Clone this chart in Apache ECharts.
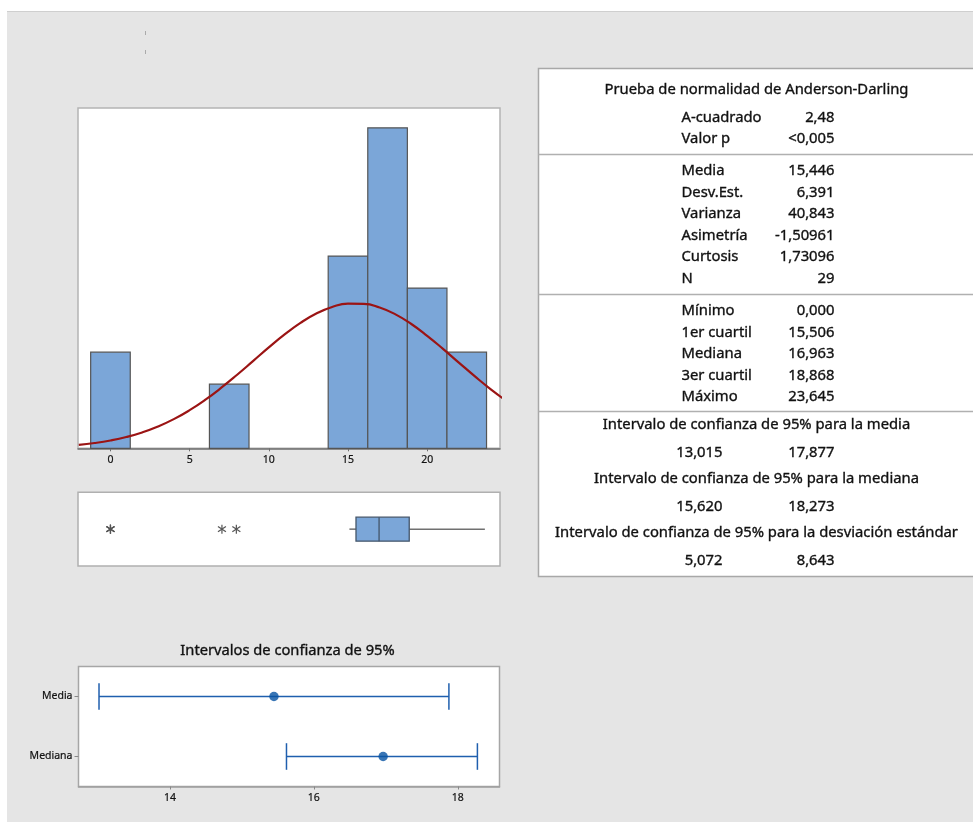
<!DOCTYPE html>
<html>
<head>
<meta charset="utf-8">
<script src="https://cdn.jsdelivr.net/npm/echarts@6/dist/echarts.min.js"></script>
<style>
  html, body { margin: 0; padding: 0; background: #ffffff; }
  #chart { width: 973px; height: 822px; }
</style>
</head>
<body>
<div id="chart"></div>
<script>
// ---- Histogram: bin edges and counts (N = 29) ----
const binLower  = [-1.25, 6.25, 13.75, 16.25, 18.75, 21.25];
const binUpper  = [ 1.25, 8.75, 16.25, 18.75, 21.25, 23.75];
const binCounts = [3, 2, 6, 10, 5, 3];

// Fitted normal curve, in count units per bin
const curveX = [-2, -1, 0, 1, 2, 3, 4, 5, 6, 7, 8, 9, 10, 11, 12, 13, 14, 15, 16, 17, 18, 19, 20, 21, 22, 23, 24, 25];
const curveY = [0.109, 0.165, 0.244, 0.352, 0.495, 0.680, 0.910, 1.190, 1.518, 1.890, 2.296, 2.721, 3.148, 3.553,
                3.914, 4.206, 4.412, 4.515, 4.509, 4.394, 4.179, 3.878, 3.511, 3.103, 2.675, 2.251, 1.848, 1.481];

const histTicks = [0, 5, 10, 15, 20];

// ---- Box plot: lower whisker, Q1, median, Q3, upper whisker; outliers ----
const boxStats = [15.09, 15.506, 16.963, 18.868, 23.645];
const outliers = [0, 0, 0, 7.04, 7.95];

// ---- 95% confidence intervals ----
const ciCategories = ['Media', 'Mediana'];
const ciLow      = [13.015, 15.620];
const ciEstimate = [15.446, 16.963];
const ciHigh     = [17.877, 18.273];
const ciTicks    = [14, 16, 18];
const sdLow = 5.072, sdHigh = 8.643;

// ---- Summary table ----
const adLabels = ['A-cuadrado', 'Valor p'];
const adValues = ['2,48', '<0,005'];
const descLabels = ['Media', 'Desv.Est.', 'Varianza', 'Asimetría', 'Curtosis', 'N'];
const descValues = ['15,446', '6,391', '40,843', '-1,50961', '1,73096', '29'];
const quartLabels = ['Mínimo', '1er cuartil', 'Mediana', '3er cuartil', 'Máximo'];
const quartValues = ['0,000', '15,506', '16,963', '18,868', '23,645'];
const intervalTitles = [
  'Intervalo de confianza de 95% para la media',
  'Intervalo de confianza de 95% para la mediana',
  'Intervalo de confianza de 95% para la desviación estándar'
];

const fmt3 = v => v.toFixed(3).replace('.', ',');
const intervalLow  = [fmt3(ciLow[0]), fmt3(ciLow[1]), fmt3(sdLow)];
const intervalHigh = [fmt3(ciHigh[0]), fmt3(ciHigh[1]), fmt3(sdHigh)];

const FONT = '"Noto Sans", "Open Sans", sans-serif';
const TXT = '#111111';
const BAR_FILL = '#7ba6d8';
const CI_BLUE = '#1f5fae';

const chart = echarts.init(document.getElementById('chart'), null, { renderer: 'canvas' });

// Table graphics
const tableEls = [];
const TBL_X = 538.5, TBL_Y = 68.5, TBL_W = 440, TBL_H = 508;
const LBL_X = 681.5, VAL_X = 834.5, MID_X = 756.5;
tableEls.push({ type: 'rect', z: 1, shape: { x: TBL_X, y: TBL_Y, width: TBL_W, height: TBL_H },
  style: { fill: '#ffffff', stroke: '#a8a8a8', lineWidth: 1.5 } });
[154.5, 294.5, 411.5].forEach(y => tableEls.push({ type: 'line', z: 2,
  shape: { x1: TBL_X, y1: y, x2: 973, y2: y }, style: { stroke: '#b0b0b0', lineWidth: 1.5 } }));

function txt(x, y, s, align) {
  tableEls.push({ type: 'text', z: 3, x: x, y: y,
    style: { text: s, fill: TXT, stroke: TXT, lineWidth: 0.35, font: '14.8px ' + FONT,
             textAlign: align, textVerticalAlign: 'middle' } });
}
txt(MID_X, 89.5, 'Prueba de normalidad de Anderson-Darling', 'center');
adLabels.forEach((l, i) => { txt(LBL_X, 117.5 + i * 21.5, l, 'left'); txt(VAL_X, 117.5 + i * 21.5, adValues[i], 'right'); });
descLabels.forEach((l, i) => { txt(LBL_X, 171 + i * 21.5, l, 'left'); txt(VAL_X, 171 + i * 21.5, descValues[i], 'right'); });
quartLabels.forEach((l, i) => { txt(LBL_X, 311 + i * 21.5, l, 'left'); txt(VAL_X, 311 + i * 21.5, quartValues[i], 'right'); });
intervalTitles.forEach((t, i) => {
  txt(MID_X, 425 + i * 54, t, 'center');
  txt(722.5, 453 + i * 54, intervalLow[i], 'right');
  txt(VAL_X, 453 + i * 54, intervalHigh[i], 'right');
});

const tickLabel = { fontSize: 10.5, color: '#111', fontFamily: FONT, textBorderColor: '#111', textBorderWidth: 0.2 };

const option = {
  animation: false,
  graphic: [
    { type: 'rect', z: -1, shape: { x: 7, y: 11, width: 966, height: 811 }, style: { fill: '#e5e5e5' } },
    { type: 'line', z: -1, shape: { x1: 7, y1: 11.5, x2: 973, y2: 11.5 }, style: { stroke: '#cfcfcf', lineWidth: 1 } },
    { type: 'line', z: -1, shape: { x1: 145.5, y1: 31, x2: 145.5, y2: 35 }, style: { stroke: '#aaaaaa', lineWidth: 1 } },
    { type: 'line', z: -1, shape: { x1: 145.5, y1: 50, x2: 145.5, y2: 54 }, style: { stroke: '#aaaaaa', lineWidth: 1 } },
    { type: 'text', z: 3, x: 287.5, y: 650.5,
      style: { text: 'Intervalos de confianza de 95%', fill: TXT, stroke: TXT, lineWidth: 0.35, font: '14.7px ' + FONT,
               textAlign: 'center', textVerticalAlign: 'middle' } }
  ].concat(tableEls),
  grid: [
    { left: 78, top: 108, width: 422, height: 340.3, show: true, backgroundColor: '#ffffff', borderColor: '#b4b4b4', borderWidth: 1.5 },
    { left: 78, top: 492.3, width: 422, height: 73.7, show: true, backgroundColor: '#ffffff', borderColor: '#b0b0b0', borderWidth: 1.5 },
    { left: 78.5, top: 666.5, width: 421, height: 120, show: true, backgroundColor: '#ffffff', borderColor: '#a6a6a6', borderWidth: 1.5 }
  ],
  xAxis: [
    { gridIndex: 0, type: 'value', min: -2.05, max: 24.6,
      axisLine: { show: true, onZero: false, lineStyle: { color: '#6e6e6e', width: 1.5 } },
      axisTick: { show: true, customValues: histTicks, length: 3, lineStyle: { color: '#6e6e6e' } },
      axisLabel: Object.assign({ customValues: histTicks, margin: 6 }, tickLabel),
      splitLine: { show: false } },
    { gridIndex: 1, type: 'value', min: -2.05, max: 24.6, show: false },
    { gridIndex: 2, type: 'value', min: 12.73, max: 18.58,
      axisLine: { show: true, onZero: false, lineStyle: { color: '#a0a0a0', width: 1.5 } },
      axisTick: { show: true, customValues: ciTicks, length: 3, lineStyle: { color: '#888' } },
      axisLabel: Object.assign({ customValues: ciTicks, margin: 6 }, tickLabel),
      splitLine: { show: false } }
  ],
  yAxis: [
    { gridIndex: 0, type: 'value', min: 0, max: 10.62, show: false },
    { gridIndex: 1, type: 'value', min: 0, max: 1, show: false },
    { gridIndex: 2, type: 'category', data: ciCategories, inverse: true,
      axisLine: { show: false },
      axisTick: { show: true, alignWithLabel: true, length: 4, lineStyle: { color: '#888' } },
      axisLabel: Object.assign({ margin: 6 }, tickLabel),
      splitLine: { show: false } }
  ],
  series: [
    // Histogram bars
    { type: 'custom', xAxisIndex: 0, yAxisIndex: 0,
      data: binCounts.map((c, i) => [binLower[i], binUpper[i], c]),
      encode: { x: [0, 1], y: 2 },
      renderItem: function (params, api) {
        const p0 = api.coord([api.value(0), api.value(2)]);
        const p1 = api.coord([api.value(1), 0]);
        return { type: 'rect', shape: { x: p0[0], y: p0[1], width: p1[0] - p0[0], height: p1[1] - p0[1] },
          style: { fill: BAR_FILL, stroke: '#555555', lineWidth: 1.2 } };
      } },
    // Normal curve
    { type: 'line', xAxisIndex: 0, yAxisIndex: 0, smooth: true, symbol: 'none', clip: true,
      data: curveX.map((x, i) => [x, curveY[i]]),
      lineStyle: { color: '#9b1414', width: 2.2 } },
    // Box plot
    { type: 'custom', xAxisIndex: 1, yAxisIndex: 1,
      data: [boxStats.concat([0.5])],
      encode: { x: [0, 4], y: 5 },
      renderItem: function (params, api) {
        const yv = api.value(5);
        const w0 = api.coord([api.value(0), yv]);
        const q1 = api.coord([api.value(1), yv]);
        const md = api.coord([api.value(2), yv]);
        const q3 = api.coord([api.value(3), yv]);
        const w1 = api.coord([api.value(4), yv]);
        const h = 12, y = w0[1];
        const wl = { stroke: '#707070', lineWidth: 1.5 };
        return { type: 'group', children: [
          { type: 'line', shape: { x1: w0[0], y1: y, x2: q1[0], y2: y }, style: wl },
          { type: 'line', shape: { x1: q3[0], y1: y, x2: w1[0], y2: y }, style: wl },
          { type: 'rect', shape: { x: q1[0], y: y - h, width: q3[0] - q1[0], height: 2 * h },
            style: { fill: BAR_FILL, stroke: '#44556a', lineWidth: 1.3 } },
          { type: 'line', shape: { x1: md[0], y1: y - h, x2: md[0], y2: y + h }, style: { stroke: '#44556a', lineWidth: 1.3 } }
        ] };
      } },
    // Outliers drawn as asterisks
    { type: 'custom', xAxisIndex: 1, yAxisIndex: 1,
      data: outliers.map(v => [v, 0.5]),
      encode: { x: 0, y: 1 },
      renderItem: function (params, api) {
        const c = api.coord([api.value(0), api.value(1)]);
        const r = 4.5, dx = 4.0, dy = 2.6;
        const st = { stroke: '#555555', lineWidth: 1.2 };
        return { type: 'group', children: [
          { type: 'line', shape: { x1: c[0], y1: c[1] - r, x2: c[0], y2: c[1] + r }, style: st },
          { type: 'line', shape: { x1: c[0] - dx, y1: c[1] - dy, x2: c[0] + dx, y2: c[1] + dy }, style: st },
          { type: 'line', shape: { x1: c[0] - dx, y1: c[1] + dy, x2: c[0] + dx, y2: c[1] - dy }, style: st }
        ] };
      } },
    // Confidence interval bars
    { type: 'custom', xAxisIndex: 2, yAxisIndex: 2,
      data: ciCategories.map((c, i) => [ciLow[i], ciHigh[i], i]),
      encode: { x: [0, 1], y: 2 },
      renderItem: function (params, api) {
        const a = api.coord([api.value(0), api.value(2)]);
        const b = api.coord([api.value(1), api.value(2)]);
        const h = 13.3;
        const st = { stroke: CI_BLUE, lineWidth: 1.5 };
        return { type: 'group', children: [
          { type: 'line', shape: { x1: a[0], y1: a[1], x2: b[0], y2: b[1] }, style: st },
          { type: 'line', shape: { x1: a[0], y1: a[1] - h, x2: a[0], y2: a[1] + h }, style: st },
          { type: 'line', shape: { x1: b[0], y1: b[1] - h, x2: b[0], y2: b[1] + h }, style: st }
        ] };
      } },
    // Point estimates
    { type: 'scatter', xAxisIndex: 2, yAxisIndex: 2, symbol: 'circle', symbolSize: 9.5,
      data: ciEstimate.map((v, i) => [v, i]),
      itemStyle: { color: '#0652a3' } }
  ]
};
chart.setOption(option);
</script>
</body>
</html>
